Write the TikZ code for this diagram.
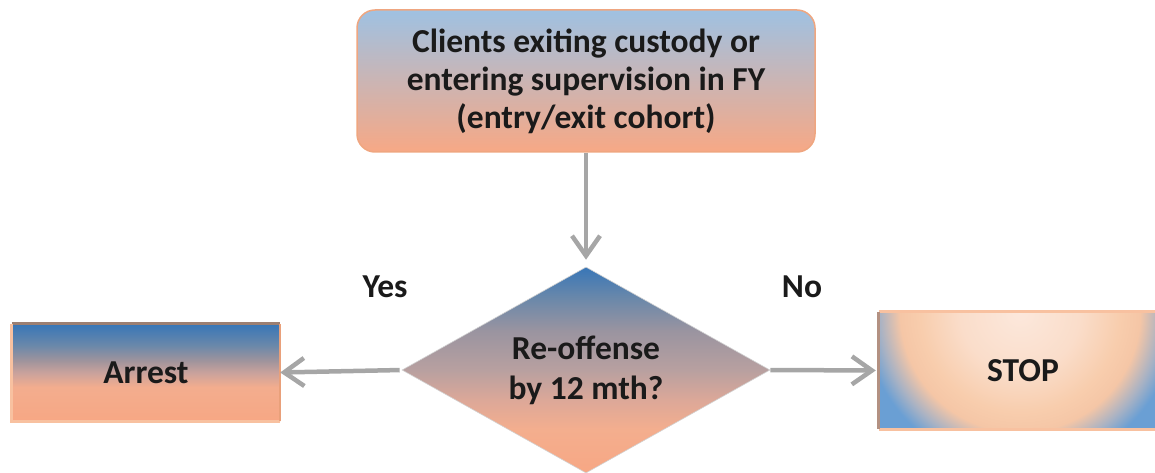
\documentclass[tikz,border=0pt]{standalone}
\usepackage{fontspec}
\setmainfont{Carlito}
\usetikzlibrary{shapes.geometric,arrows.meta}
\definecolor{arrowgray}{HTML}{A6A6A6}
\definecolor{txt}{HTML}{1A1A1A}
\definecolor{topA}{HTML}{9FC1E2}
\definecolor{topB}{HTML}{D5B6AD}
\definecolor{topC}{HTML}{F7A885}
\definecolor{topEdge}{HTML}{EFA680}
\definecolor{blueA}{HTML}{3876B7}
\definecolor{salmon}{HTML}{F7A784}
\definecolor{dA}{HTML}{F4AE8E}
\definecolor{dB}{HTML}{DDA898}
\definecolor{dC}{HTML}{B8A0A0}
\definecolor{dD}{HTML}{9A94A0}
\definecolor{dE}{HTML}{6A88AA}
\definecolor{aA}{HTML}{F3AD8E}
\definecolor{aB}{HTML}{C9A29C}
\definecolor{aC}{HTML}{A0949C}
\definecolor{aD}{HTML}{6A88AA}
\definecolor{brownEdge}{HTML}{9C7F72}
\definecolor{peachEdge}{HTML}{F8C1A0}
\definecolor{orangeEdge}{HTML}{E9A07A}
\definecolor{stopLeft}{HTML}{B39182}
\definecolor{glowA}{HTML}{FCE8DC}
\definecolor{glowB}{HTML}{FADDCA}
\definecolor{glowC}{HTML}{F8CDAD}
\definecolor{glowD}{HTML}{F5C6A6}
\definecolor{glowE}{HTML}{A8B2C4}
\definecolor{glowF}{HTML}{6A9FD4}
\pgfdeclareradialshading{stopglow}{\pgfpointorigin}{color(0bp)=(glowA); color(7.5bp)=(glowB); color(12.5bp)=(glowC); color(15bp)=(glowD); color(17.6bp)=(glowE); color(19.6bp)=(glowF); color(50bp)=(glowF)}
\pgfdeclareverticalshading{diashade}{100bp}{color(0bp)=(salmon); color(25bp)=(salmon); color(35.5bp)=(dA); color(42.5bp)=(dB); color(50bp)=(dC); color(59.5bp)=(dD); color(67.5bp)=(dE); color(75bp)=(blueA); color(100bp)=(blueA)}
\pgfdeclareverticalshading{arrestshade}{100bp}{color(0bp)=(salmon); color(25bp)=(salmon); color(42.5bp)=(aA); color(50bp)=(aB); color(56bp)=(aC); color(64bp)=(aD); color(75bp)=(blueA); color(100bp)=(blueA)}
\tikzset{
  lbl/.style={font=\fontsize{33.5}{38}\selectfont\bfseries, text=txt, align=center, inner sep=0pt},
  startbox/.style={lbl, rectangle, rounded corners=18pt, minimum width=458pt, minimum height=142pt,
    top color=topA, middle color=topB, bottom color=topC, draw=topEdge, line width=1.5pt},
  decision/.style={lbl, font=\fontsize{33.5}{40}\selectfont\bfseries, diamond, shape aspect=1.8, minimum width=368pt, minimum height=206pt,
    shade, shading=diashade, draw=gray!35, line width=0.6pt},
  arrestbox/.style={lbl, rectangle, minimum width=268pt, minimum height=97pt,
    shade, shading=arrestshade},
  stopbox/.style={lbl, rectangle, minimum width=288pt, minimum height=117pt},
  flow/.style={draw=arrowgray, line width=4.5pt, -{Straight Barb[length=20pt,width=28pt,line width=4.5pt]}},
}
\begin{document}
\begin{tikzpicture}
\useasboundingbox (0,0) rectangle (1155pt,472pt);
\begin{scope}[x=1pt,y=1pt]
\node[startbox] (start) at (586,391) {Clients exiting custody or\\entering supervision in FY\\(entry/exit cohort)};
\node[decision] (dec) at (586,102) {Re-offense\\by 12 mth?};
\node[arrestbox] (arrest) at (146,99.5) {Arrest};
\node[stopbox, path picture={\shade[shading=stopglow] ([xshift=-3pt]path picture bounding box.north) circle[radius=200pt];}] (stop) at (1023,101.5) {STOP};
% box edges
\draw[brownEdge, line width=3pt] (arrest.north west) -- (arrest.north east);
\draw[peachEdge, line width=3pt] (arrest.north west) -- (arrest.south west) -- (arrest.south east);
\draw[orangeEdge, line width=1.5pt] (arrest.north east) -- (arrest.south east);
\draw[peachEdge, line width=3pt] (stop.north west) -- (stop.north east);
\draw[peachEdge, line width=3pt] (stop.south west) -- (stop.south east);
\draw[stopLeft, line width=3pt] (stop.north west) -- (stop.south west);
% labels
\node[lbl] (yes) at (385,185) {Yes};
\node[lbl] (no) at (802,185) {No};
% connectors
\draw[flow, shorten >=7pt] (start.south) -- (dec.north);
\draw[flow, shorten <=2pt] (dec.west) -- (arrest.east);
\draw[flow, shorten >=3pt] (dec.east) -- (stop.west);
\end{scope}
\end{tikzpicture}
\end{document}
